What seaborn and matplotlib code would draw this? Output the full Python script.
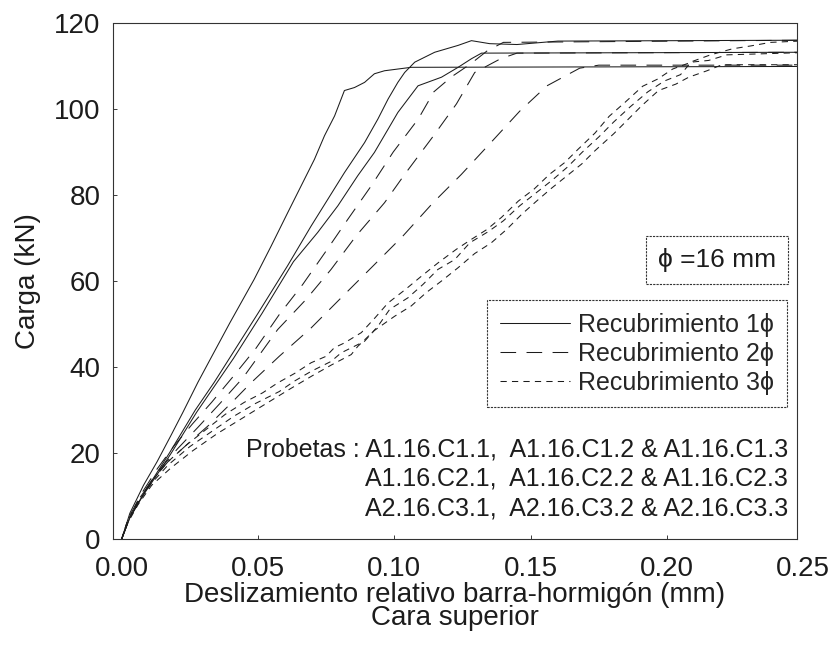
import matplotlib
matplotlib.use("Agg")
import matplotlib.pyplot as plt
from matplotlib.lines import Line2D
import pandas as pd
import seaborn as sns

# Slip (mm) and load (kN) for each specimen, cover 1 phi
c1_1_x = [0, 0.003, 0.008, 0.013, 0.018, 0.0224, 0.028, 0.0335, 0.0397, 0.0486, 0.0548, 0.0609,
          0.0658, 0.0707, 0.0744, 0.0781, 0.0817, 0.0854, 0.0891, 0.0927, 0.0964, 0.1013, 0.1062, 0.2485]
c1_1_y = [0, 6, 12.5, 18, 24, 29.4, 36.5, 43, 50.3, 60.4, 68.1, 75.9,
          82.1, 88.3, 93.8, 98.4, 104.3, 105.0, 106.2, 108.2, 108.9, 109.3, 109.7, 109.9]
c1_2_x = [0, 0.003, 0.008, 0.013, 0.0175, 0.027, 0.034, 0.040, 0.050, 0.0608, 0.0695, 0.0756, 0.0817,
          0.0891, 0.094, 0.0977, 0.1013, 0.1038, 0.1075, 0.1148, 0.1234, 0.1283, 0.135, 0.145, 0.160, 0.2485]
c1_2_y = [0, 5, 10.5, 15.5, 20, 30, 36.5, 42.5, 52.5, 63.5, 72.8, 79, 85.2,
          92.2, 97.7, 102.3, 106.2, 108.5, 110.9, 113.2, 114.8, 115.9, 115.2, 115.0, 115.8, 116.0]
c1_3_x = [0, 0.003, 0.008, 0.013, 0.018, 0.0275, 0.041, 0.0515, 0.063, 0.0719, 0.0793, 0.0866,
          0.0927, 0.0977, 0.1013, 0.105, 0.1087, 0.1173, 0.1234, 0.1283, 0.132, 0.2485]
c1_3_y = [0, 5, 10.3, 15, 19.8, 29.5, 42, 52.5, 64.5, 71.3, 77.5, 84.5,
          89.9, 95.3, 99.2, 102.3, 105.4, 107.4, 109.7, 111.7, 113.0, 113.2]

# cover 2 phi
c2_1_x = [0, 0.003, 0.008, 0.013, 0.019, 0.026, 0.033, 0.0405, 0.0493, 0.0578, 0.0664, 0.075, 0.083,
          0.0915, 0.0996, 0.1088, 0.1145, 0.121, 0.128, 0.134, 0.140, 0.2485]
c2_1_y = [0, 5.5, 11.3, 16.3, 21.5, 26.8, 31.8, 37.5, 44.4, 52.2, 59.2, 67.0, 74.4,
          82.1, 90.0, 97.7, 104.0, 107.5, 110.5, 113.5, 115.5, 116.0]
c2_2_x = [0, 0.003, 0.008, 0.013, 0.0205, 0.028, 0.036, 0.0445, 0.0572, 0.0676, 0.0768, 0.086,
          0.0964, 0.1038, 0.1143, 0.1228, 0.1295, 0.139, 0.145, 0.2485]
c2_2_y = [0, 5.0, 10.8, 15.5, 21, 26, 31.5, 37.5, 48.7, 55.7, 62.7, 70.5,
          78.2, 84.8, 93.7, 101.2, 108.5, 111.7, 113.0, 113.2]
c2_3_x = [0, 0.002, 0.006, 0.011, 0.017, 0.024, 0.032, 0.040, 0.0474, 0.0578, 0.0695, 0.0805, 0.0922,
          0.1032, 0.1142, 0.1246, 0.136, 0.146, 0.156, 0.168, 0.175, 0.2485]
c2_3_y = [0, 3.5, 8.5, 13.5, 18, 22, 26.5, 31.5, 36.3, 42.5, 49.1, 56.1, 63.5,
          70.5, 78.2, 84.8, 92.6, 99.5, 105.4, 109.5, 110.2, 110.2]

# cover 3 phi
c3_1_x = [0, 0.002, 0.006, 0.011, 0.017, 0.024, 0.031, 0.038, 0.045, 0.0517, 0.0572, 0.0634, 0.0695,
          0.075, 0.078, 0.0817, 0.0879, 0.093, 0.0977, 0.104, 0.1099, 0.116, 0.1228, 0.1283, 0.134,
          0.1393, 0.1455, 0.1513, 0.1569, 0.1626, 0.1675, 0.1736, 0.1788, 0.1847, 0.1911, 0.1967,
          0.2021, 0.2089, 0.2153, 0.222, 0.2485]
c3_1_y = [0, 4, 9, 13.5, 18, 22, 25.5, 29, 31.8, 34, 36.3, 38.5, 41,
          42.5, 44.5, 45.6, 48, 51.5, 54.9, 58, 61.1, 64.2, 67.4, 69.7, 72,
          74.8, 78.6, 81.4, 84.8, 87.6, 90.7, 94.4, 98.3, 101.6, 105.3, 107,
          109.3, 110.9, 111.3, 112.6, 113.1]
c3_2_x = [0, 0.002, 0.006, 0.011, 0.017, 0.025, 0.033, 0.041, 0.049, 0.0578, 0.0633, 0.0695, 0.0768,
          0.0805, 0.0891, 0.094, 0.0983, 0.105, 0.1105, 0.116, 0.1222, 0.1277, 0.1345, 0.140, 0.146,
          0.152, 0.158, 0.1635, 0.169, 0.175, 0.1805, 0.1865, 0.193, 0.199, 0.205, 0.209, 0.216,
          0.224, 0.231, 0.238, 0.2485]
c3_2_y = [0, 3.8, 8.5, 13, 17.2, 21.5, 25, 28.5, 31.5, 34.3, 36.7, 39, 41.3,
          43.3, 46, 49.5, 53.4, 56.1, 59.2, 62.7, 65, 68.9, 71.5, 74, 77.5,
          80.5, 83.5, 86.5, 90, 93.5, 97, 100.5, 104, 106.5, 108, 111, 112.6,
          114, 114.7, 115.5, 115.8]
c3_3_x = [0, 0.002, 0.006, 0.011, 0.018, 0.026, 0.035, 0.044, 0.053, 0.062, 0.070, 0.077, 0.0842,
          0.0866, 0.0927, 0.1001, 0.1062, 0.1117, 0.1173, 0.1234, 0.1295, 0.1356, 0.1412, 0.1467,
          0.1522, 0.1575, 0.1626, 0.1687, 0.1736, 0.1804, 0.1853, 0.1908, 0.1969, 0.2033, 0.208,
          0.2147, 0.2202, 0.2485]
c3_3_y = [0, 3.5, 8, 12.5, 16.5, 20.5, 24.5, 28, 31.5, 35, 38, 40.5, 42.9,
          44.8, 48.5, 51.8, 54.2, 57.3, 60, 63.1, 66.4, 68.9, 72, 75.5,
          78.6, 81.5, 84.1, 87.2, 90.3, 94.2, 97.3, 100.8, 104.3, 105.8, 107.4,
          108.9, 110.3, 110.3]

cover_labels = ["Recubrimiento 1\u03d5", "Recubrimiento 2\u03d5", "Recubrimiento 3\u03d5"]
specimens = {
    "A1.16.C1.1": (c1_1_x, c1_1_y, 0), "A1.16.C1.2": (c1_2_x, c1_2_y, 0), "A1.16.C1.3": (c1_3_x, c1_3_y, 0),
    "A1.16.C2.1": (c2_1_x, c2_1_y, 1), "A1.16.C2.2": (c2_2_x, c2_2_y, 1), "A1.16.C2.3": (c2_3_x, c2_3_y, 1),
    "A2.16.C3.1": (c3_1_x, c3_1_y, 2), "A2.16.C3.2": (c3_2_x, c3_2_y, 2), "A2.16.C3.3": (c3_3_x, c3_3_y, 2),
}

x_ticks = [0.00, 0.05, 0.10, 0.15, 0.20, 0.25]
y_ticks = [0, 20, 40, 60, 80, 100, 120]
diameter_note = "\u03d5 =16 mm"
probetas_lines = ["Probetas : A1.16.C1.1,  A1.16.C1.2 & A1.16.C1.3",
                  "A1.16.C2.1,  A1.16.C2.2 & A1.16.C2.3",
                  "A2.16.C3.1,  A2.16.C3.2 & A2.16.C3.3"]

rows = []
for name, (xs, ys, k) in specimens.items():
    for xv, yv in zip(xs, ys):
        rows.append({"slip": xv, "load": yv, "specimen": name, "cover": cover_labels[k]})
df = pd.DataFrame(rows)

sns.set_style("ticks")
plt.rcParams["font.family"] = ["Liberation Sans", "DejaVu Sans"]

ink = "#1c1c1c"
lw = 0.75
dash_map = {cover_labels[0]: "", cover_labels[1]: (15, 10), cover_labels[2]: (6, 5)}
tick_fs = 20
tick_pad = 12

fig = plt.figure(figsize=(8.3, 6.45), dpi=100)
ax = fig.add_axes([0.1361, 0.1643, 0.8241, 0.800])

sns.lineplot(data=df, x="slip", y="load", units="specimen", style="cover",
             style_order=cover_labels, dashes=dash_map, estimator=None, sort=False,
             color=ink, linewidth=lw, legend=False, ax=ax)

x_right = 0.2477
ax.set_xlim(-0.0032, x_right)
ax.set_ylim(0, 120)
shown = [t for t in x_ticks if t <= x_right]
ax.set_xticks(shown)
ax.set_xticklabels([f"{t:.2f}" for t in shown])
ax.set_yticks(y_ticks)
ax.set_yticklabels([str(t) for t in y_ticks])
ax.tick_params(axis="both", direction="in", length=3, width=0.6, colors=ink, labelsize=tick_fs)
ax.tick_params(axis="x", pad=tick_pad)
ax.tick_params(axis="y", pad=9)
# tick label for the value just past the right edge of the frame
for t in x_ticks:
    if t > x_right:
        ax.annotate(f"{t:.2f}", xy=(t, 0), xycoords=("data", "axes fraction"),
                    xytext=(0, -tick_pad), textcoords="offset points",
                    ha="center", va="top", fontsize=tick_fs, color=ink, annotation_clip=False)

for s in ax.spines.values():
    s.set_linestyle((0, (2, 1)))
    s.set_linewidth(0.8)
    s.set_color("#333333")

ax.set_xlabel("Deslizamiento relativo barra-hormigón (mm)\nCara superior",
              fontsize=20, color=ink, linespacing=0.85, labelpad=0)
ax.set_ylabel("Carga (kN)", fontsize=20, color=ink, labelpad=9)

# legend for cover thickness
handles = [Line2D([], [], color=ink, lw=lw, dashes=dash_map[c]) if dash_map[c] else
           Line2D([], [], color=ink, lw=lw) for c in cover_labels]
leg = ax.legend(handles, cover_labels, loc="upper right", bbox_to_anchor=(0.9854, 0.4632),
                borderaxespad=0, fontsize=18, handlelength=2.8, handletextpad=0.35,
                labelspacing=0.2, borderpad=0.5, fancybox=False, framealpha=1)
leg.get_frame().set_edgecolor("#333333")
leg.get_frame().set_linewidth(0.8)
leg.get_frame().set_linestyle((0, (2, 1)))

ax.text(0.883, 0.5407, diameter_note, transform=ax.transAxes, ha="center", va="center",
        fontsize=19, color=ink,
        bbox=dict(boxstyle="square,pad=0.45", fc="white", ec="#333333", lw=0.8, ls=(0, (2, 1))))

for i, line in enumerate(probetas_lines):
    ax.text(0.987, 0.1744 - i * 0.0575, line, transform=ax.transAxes, ha="right", va="center",
            fontsize=18, color=ink)

fig.savefig("out.png", dpi=100)
